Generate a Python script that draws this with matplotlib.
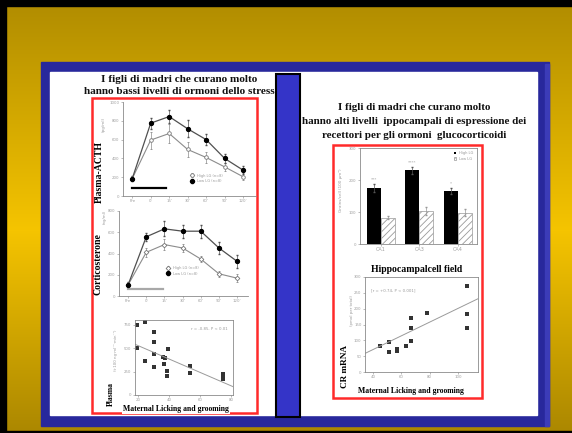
import numpy as np
import matplotlib.pyplot as plt
from matplotlib.patches import Rectangle

W, H = 572, 433

# --- ACTH time course (pg/ml), top-left panel
time_labels = ["Pre", "0'", "15'", "30'", "60'", "90'", "120'"]
acth_high_lg = [185, 775, 845, 715, 600, 400, 275]
acth_low_lg = [185, 595, 665, 495, 410, 310, 205]
acth_err_high = [30, 60, 70, 90, 55, 45, 40]
acth_err_low = [30, 90, 100, 80, 60, 45, 35]
acth_stress_period = [0, 1.85]
acth_stress_level = 87

# --- corticosterone time course (ng/ml), middle-left panel
cort_high_lg = [104, 557, 632, 610, 610, 452, 326]
cort_low_lg = [104, 411, 484, 452, 348, 209, 168]
cort_err_high = [25, 40, 70, 60, 60, 60, 60]
cort_err_low = [25, 40, 50, 40, 30, 30, 40]
cort_stress_period = [0, 1.9]
cort_stress_level = 63

# --- plasma corticosterone vs licking/grooming, bottom-left panel
lg_left = [19.5, 24.4, 30.2, 30.2, 19.5, 39.4, 30.2, 36.2, 37.3, 24.4,
           30.2, 36.6, 38.8, 38.8, 53.4, 53.4, 74.4, 74.4, 74.4]
plasma_auc = [747, 782, 675, 562, 498, 487, 434, 409, 398, 363,
              302, 327, 256, 206, 309, 238, 221, 192, 174]
left_fit = (-7.17, 670)

# --- GR mRNA by hippocampal field, top-right panel
fields = ["CA1", "CA3", "CA4"]
gr_high_lg = [175, 230, 165]
gr_low_lg = [82, 103, 98]
gr_err_high = [12, 10, 10]
gr_err_low = [5, 12, 10]
gr_sig = ["***", "****", "*"]

# --- CR mRNA vs licking/grooming, bottom-right panel
lg_right = [45.2, 51.1, 51.1, 57.0, 57.0, 63.6, 67.1, 67.1, 67.1, 78.1,
            106.4, 106.4, 106.4]
cr_mrna = [82, 95, 62, 73, 66, 82, 98, 138, 172, 186, 272, 182, 138]
right_fit = (2.17, -16)

SERIF = "Liberation Serif"
GRAY = "#8a8a8a"


def pxy(x, y):
    return x / W, 1 - y / H


def px_axes(fig, x0, y0, x1, y1):
    return fig.add_axes([x0 / W, 1 - y1 / H, (x1 - x0) / W, (y1 - y0) / H])


def scan_style(ax, box=False):
    ax.patch.set_alpha(0)
    for side, sp in ax.spines.items():
        sp.set_color(GRAY)
        sp.set_linewidth(0.6)
        if not box and side in ("top", "right"):
            sp.set_visible(False)
    ax.tick_params(labelsize=2.8, colors="#a0a0a0", length=1.5, width=0.5, pad=1)


plt.rcParams["hatch.linewidth"] = 0.6
fig = plt.figure(figsize=(W / 100, H / 100), dpi=100)

# background: gold gradient, black edge, blue frame, white sheet
bg = fig.add_axes([0, 0, 1, 1])
bg.set_xlim(0, W)
bg.set_ylim(H, 0)
bg.axis("off")
rows = np.arange(H)
stops_y = [0, 230, H]
r = np.interp(rows, stops_y, [176, 245, 171])
g = np.interp(rows, stops_y, [140, 196, 135])
grad = np.stack([r, g, np.zeros(H)], axis=1)[:, None, :] / 255
bg.imshow(grad, extent=(0, W, H, 0), aspect="auto", zorder=0)
bg.add_patch(Rectangle((0, 0), W, 6, color="black", zorder=1))
bg.add_patch(Rectangle((0, 0), 6, H, color="black", zorder=1))
bg.add_patch(Rectangle((0, H - 2), W, 2, color="black", zorder=1))
bg.add_patch(Rectangle((41, 62), 508, 364, color="#28289c", zorder=2))
bg.add_patch(Rectangle((545, 64), 4, 362, color="#3c3cb8", zorder=2))
bg.add_patch(Rectangle((50, 72), 487, 343, color="white", zorder=3))
bg.add_patch(Rectangle((276, 74), 24, 343, facecolor="#3434c8",
                       edgecolor="black", linewidth=1.5, zorder=4))
bg.add_patch(Rectangle((92, 98), 165, 315, facecolor="none",
                       edgecolor="#ff2a2a", linewidth=1.8, zorder=4))
bg.add_patch(Rectangle((333, 145), 149, 253, facecolor="none",
                       edgecolor="#ff2a2a", linewidth=1.8, zorder=4))

# titles
title_kw = dict(family=SERIF, weight="bold", fontsize=8.1, ha="center",
                va="center", color="#111111")
fig.text(*pxy(179, 80), "I figli di madri che curano molto", **title_kw)
fig.text(*pxy(179, 92), "hanno bassi livelli di ormoni dello stress", **title_kw)
title_kw["fontsize"] = 7.9
fig.text(*pxy(414, 108), "I figli di madri che curano molto", **title_kw)
fig.text(*pxy(414, 122), "hanno alti livelli  ippocampali di espressione dei",
         **title_kw)
fig.text(*pxy(414, 136), "recettori per gli ormoni  glucocorticoidi", **title_kw)

# --- ACTH panel
ax1 = px_axes(fig, 123, 102, 256, 196)
t = np.arange(len(time_labels))
ax1.errorbar(t, acth_low_lg, yerr=acth_err_low, color="#8c8c8c", lw=0.8,
             marker="o", ms=2.6, mfc="white", mec="#777777", mew=0.6,
             elinewidth=0.5, capsize=0.8, label="High LG (n=8)")
ax1.errorbar(t, acth_high_lg, yerr=acth_err_high, color="#505050", lw=0.9,
             marker="o", ms=2.8, mfc="black", mec="black",
             elinewidth=0.5, capsize=0.8, label="Low LG (n=8)")
ax1.plot(acth_stress_period, [acth_stress_level] * 2, color="black", lw=1.6)
ax1.set_xlim(-0.5, 6.7)
ax1.set_ylim(0, 1000)
ax1.set_yticks([0, 200, 400, 600, 800, 1000])
ax1.set_xticks(t)
ax1.set_xticklabels(time_labels)
scan_style(ax1)
ax1.legend(loc="lower left", bbox_to_anchor=(0.48, 0.1), fontsize=2.6,
           frameon=False, handlelength=1, labelcolor="#999999")
fig.text(*pxy(99, 172), "Plasma-ACTH", family=SERIF, weight="bold",
         fontsize=7, rotation=90, ha="center", va="center")
fig.text(*pxy(104, 124), "(pg/ml)", fontsize=3, color="#999999",
         rotation=90, ha="center", va="center")

# --- corticosterone panel
ax2 = px_axes(fig, 119, 211, 248, 296)
ax2.errorbar(t, cort_low_lg, yerr=cort_err_low, color="#8c8c8c", lw=0.8,
             marker="D", ms=2.4, mfc="white", mec="#777777", mew=0.6,
             elinewidth=0.5, capsize=0.8, label="High LG (n=8)")
ax2.errorbar(t, cort_high_lg, yerr=cort_err_high, color="#505050", lw=0.9,
             marker="o", ms=2.8, mfc="black", mec="black",
             elinewidth=0.5, capsize=0.8, label="Low LG (n=8)")
ax2.plot(cort_stress_period, [cort_stress_level] * 2, color="#a8a8a8", lw=1.6)
ax2.set_xlim(-0.5, 6.6)
ax2.set_ylim(0, 800)
ax2.set_yticks([0, 200, 400, 600, 800])
ax2.set_xticks(t)
ax2.set_xticklabels(time_labels)
scan_style(ax2)
ax2.legend(loc="lower left", bbox_to_anchor=(0.34, 0.2), fontsize=2.6,
           frameon=False, handlelength=1, labelcolor="#999999")
fig.text(*pxy(98, 264), "Corticosterone", family=SERIF, weight="bold",
         fontsize=7, rotation=90, ha="center", va="center")
fig.text(*pxy(105, 217), "(ng/ml)", fontsize=2.8, color="#999999",
         rotation=90, ha="center", va="center")

# --- left scatter
ax3 = px_axes(fig, 135, 320, 233, 395)
ax3.scatter(lg_left, plasma_auc, s=5, color="#333333", marker="s", lw=0)
xs = np.array([18, 81])
ax3.plot(xs, left_fit[0] * xs + left_fit[1], color="#9a9a9a", lw=0.7)
ax3.set_xlim(18, 81)
ax3.set_ylim(0, 800)
ax3.set_xticks([20, 40, 60, 80])
ax3.set_yticks([0, 250, 500, 750])
scan_style(ax3, box=True)
ax3.text(0.95, 0.88, "r = -0.85, P < 0.01", transform=ax3.transAxes,
         fontsize=2.8, color="#999999", ha="right", va="center")
fig.text(*pxy(111, 394), "Plasma", family=SERIF, weight="bold",
         fontsize=5.6, rotation=90, ha="center", va="center")
fig.text(*pxy(116, 350), "(t·100 ng·ml⁻¹·min⁻¹)", fontsize=2.8,
         color="#999999", rotation=90, ha="center", va="center")
fig.text(*pxy(176, 409), "Maternal Licking and grooming", family=SERIF,
         weight="bold", fontsize=5.6, ha="center", va="center",
         bbox=dict(facecolor="white", edgecolor="none", pad=0.6))

# --- bar chart
ax4 = px_axes(fig, 360, 148, 477, 244)
xi = np.arange(len(fields))
bw = 0.36
ax4.bar(xi - bw / 2, gr_high_lg, bw, yerr=gr_err_high, color="black",
        error_kw=dict(elinewidth=0.5, capsize=1, ecolor="#555555"),
        label="High LG")
ax4.bar(xi + bw / 2, gr_low_lg, bw, yerr=gr_err_low, color="white",
        edgecolor="#999999", hatch="/////", lw=0.5,
        error_kw=dict(elinewidth=0.5, capsize=1, ecolor="#999999"),
        label="Low LG")
for xv, hv, ev, sig in zip(xi, gr_high_lg, gr_err_high, gr_sig):
    ax4.text(xv - bw / 2, hv + ev + 8, sig, fontsize=3, color="#999999",
             ha="center", va="bottom")
ax4.set_xlim(-0.54, 2.5)
ax4.set_ylim(0, 300)
ax4.set_yticks([0, 100, 200, 300])
ax4.set_xticks(xi)
ax4.set_xticklabels(fields)
scan_style(ax4, box=True)
ax4.tick_params(axis="x", labelsize=3.5)
ax4.legend(loc="upper right", fontsize=2.6, frameon=False, handlelength=0.8,
           handleheight=0.8, labelcolor="#999999")
fig.text(*pxy(341, 190), "Grains/cell (100 µm²)", fontsize=3, color="#999999",
         rotation=90, ha="center", va="center")
fig.text(*pxy(417, 269), "Hippocampalcell field", family=SERIF,
         weight="bold", fontsize=7, ha="center", va="center")

# --- right scatter
ax5 = px_axes(fig, 365, 277, 478, 372)
ax5.scatter(lg_right, cr_mrna, s=6, color="#333333", marker="s", lw=0)
xs = np.array([34.4, 114])
ax5.plot(xs, right_fit[0] * xs + right_fit[1], color="#9a9a9a", lw=0.7)
ax5.set_xlim(34.4, 114)
ax5.set_ylim(0, 300)
ax5.set_xticks([40, 60, 80, 100])
ax5.set_yticks([0, 50, 100, 150, 200, 250, 300])
scan_style(ax5, box=True)
ax5.text(0.05, 0.86, "[r = +0.74, P < 0.001]", transform=ax5.transAxes,
         fontsize=2.8, color="#999999", ha="left", va="center")
fig.text(*pxy(345, 366), "CR mRNA", family=SERIF, weight="bold",
         fontsize=6.6, rotation=90, ha="center", va="center")
fig.text(*pxy(352, 310), "(pmol per total)", fontsize=2.8, color="#999999",
         rotation=90, ha="center", va="center")
fig.text(*pxy(411, 391), "Maternal Licking and grooming", family=SERIF,
         weight="bold", fontsize=5.6, ha="center", va="center",
         bbox=dict(facecolor="white", edgecolor="none", pad=0.6))

fig.savefig("out.png", dpi=100)
